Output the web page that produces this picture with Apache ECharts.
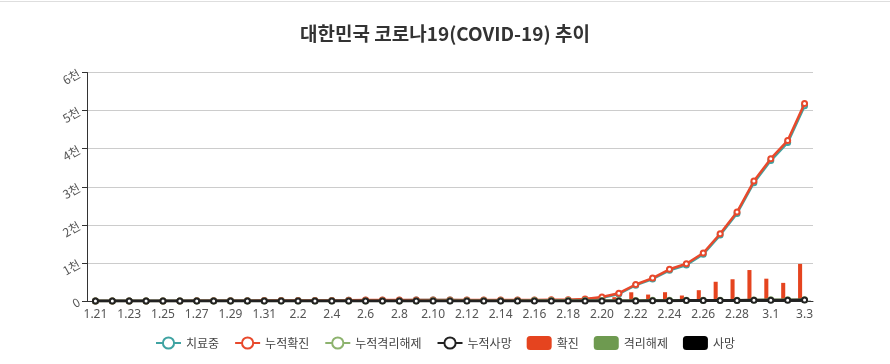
<!DOCTYPE html>
<html>
<head>
<meta charset="utf-8">
<script src="https://cdn.jsdelivr.net/npm/echarts@6/dist/echarts.min.js"></script>
<style>
html,body{margin:0;padding:0;background:#fff;}
#wrap{width:890px;height:364px;position:relative;}
#topline{position:absolute;left:0;top:1px;width:890px;height:1px;background:#dedede;z-index:2;}
#chart{width:890px;height:364px;}
</style>
</head>
<body>
<div id="wrap"><div id="topline"></div><div id="chart"></div></div>
<script>
const dates = ['1.21','1.22','1.23','1.24','1.25','1.26','1.27','1.28','1.29','1.30','1.31',
  '2.1','2.2','2.3','2.4','2.5','2.6','2.7','2.8','2.9','2.10','2.11','2.12','2.13','2.14','2.15','2.16','2.17','2.18','2.19','2.20',
  '2.21','2.22','2.23','2.24','2.25','2.26','2.27','2.28','2.29','3.1','3.2','3.3'];
const cumConfirmed = [1,1,1,2,2,3,4,4,4,6,11,
  12,15,15,16,19,23,24,24,27,27,28,28,28,28,28,29,30,31,51,104,
  204,433,602,833,977,1261,1766,2337,3150,3736,4212,5186];
const cumReleased = [0,0,0,0,0,0,0,0,0,0,0,
  0,0,0,0,1,2,2,3,3,4,4,7,7,7,9,10,10,12,12,16,
  16,16,18,18,22,22,22,22,27,30,31,34];
const cumDeaths = [0,0,0,0,0,0,0,0,0,0,0,
  0,0,0,0,0,0,0,0,0,0,0,0,0,0,0,0,0,0,0,1,
  2,2,6,8,10,12,13,16,17,18,22,28];
const dailyConfirmed = [1,0,0,1,0,1,1,0,0,2,5,
  1,3,0,1,3,4,1,0,3,0,1,0,0,0,0,1,1,1,20,53,
  100,229,169,231,144,284,505,571,813,586,476,974];
const dailyReleased = [0,0,0,0,0,0,0,0,0,0,0,
  0,0,0,0,1,1,0,1,0,1,0,3,0,0,2,1,0,2,0,4,
  0,0,2,0,4,0,0,0,5,3,1,3];
const dailyDeaths = [0,0,0,0,0,0,0,0,0,0,0,
  0,0,0,0,0,0,0,0,0,0,0,0,0,0,0,0,0,0,0,1,
  1,0,4,2,2,2,1,3,1,1,4,6];
const underTreatment = [1,1,1,2,2,3,4,4,4,6,11,
  12,15,15,16,18,21,22,21,24,23,24,21,21,21,19,19,20,19,39,87,
  186,415,578,807,945,1227,1731,2299,3106,3688,4159,5124];
const yTicks = ['0','1천','2천','3천','4천','5천','6천'];

const FONT = "'Noto Sans', 'Noto Sans CJK KR', sans-serif";
const chart = echarts.init(document.getElementById('chart'));
function lineSeries(name, data, color, width, z) {
  return {
    name: name, type: 'line', data: data, z: z,
    symbol: 'emptyCircle', symbolSize: 5, showAllSymbol: true,
    lineStyle: {color: color, width: width},
    itemStyle: {color: color, borderWidth: 1.5}
  };
}
chart.setOption({
  animation: false,
  color: ['#3fa3a2', '#e8492c', '#8db36e', '#222222', '#e5441f', '#6e9a50', '#000000'],
  textStyle: {fontFamily: FONT},
  title: {
    text: '대한민국 코로나19(COVID-19) 추이',
    left: 'center', top: 19,
    textStyle: {fontSize: 19, fontWeight: 'bold', color: '#333', fontFamily: "'Noto Sans CJK KR', sans-serif"}
  },
  legend: {
    top: 331, left: 'center', itemGap: 15, itemWidth: 25, itemHeight: 14,
    textStyle: {fontSize: 12, color: '#444', fontFamily: "'Noto Sans CJK KR', sans-serif"},
    data: ['치료중', '누적확진', '누적격리해제', '누적사망', '확진', '격리해제', '사망']
  },
  grid: {left: 87, right: 77, top: 72.5, bottom: 63},
  xAxis: {
    type: 'category', data: dates, boundaryGap: true,
    axisLine: {lineStyle: {color: '#333'}},
    axisTick: {interval: 1, lineStyle: {color: '#333'}},
    axisLabel: {interval: 1, fontSize: 12, color: '#555', fontFamily: FONT}
  },
  yAxis: {
    type: 'value', min: 0, max: 6000, interval: 1000,
    axisLine: {show: true, lineStyle: {color: '#333'}},
    axisTick: {show: true, lineStyle: {color: '#333'}},
    splitLine: {lineStyle: {color: '#ccc'}},
    axisLabel: {
      rotate: 30, fontSize: 12, color: '#555', fontFamily: "'Noto Sans CJK KR', sans-serif",
      formatter: function (v) { return yTicks[Math.round(v / 1000)]; }
    }
  },
  series: [
    lineSeries('치료중', underTreatment, '#3fa3a2', 2.5, 3),
    lineSeries('누적확진', cumConfirmed, '#e8492c', 2.5, 4),
    lineSeries('누적격리해제', cumReleased, '#8db36e', 2.5, 5),
    lineSeries('누적사망', cumDeaths, '#222222', 3, 6),
    {name: '확진', type: 'bar', data: dailyConfirmed, z: 2, itemStyle: {color: '#e5441f'}},
    {name: '격리해제', type: 'bar', data: dailyReleased, z: 2, itemStyle: {color: '#6e9a50'}},
    {name: '사망', type: 'bar', data: dailyDeaths, z: 2, itemStyle: {color: '#000000'}}
  ]
});
</script>
</body>
</html>
